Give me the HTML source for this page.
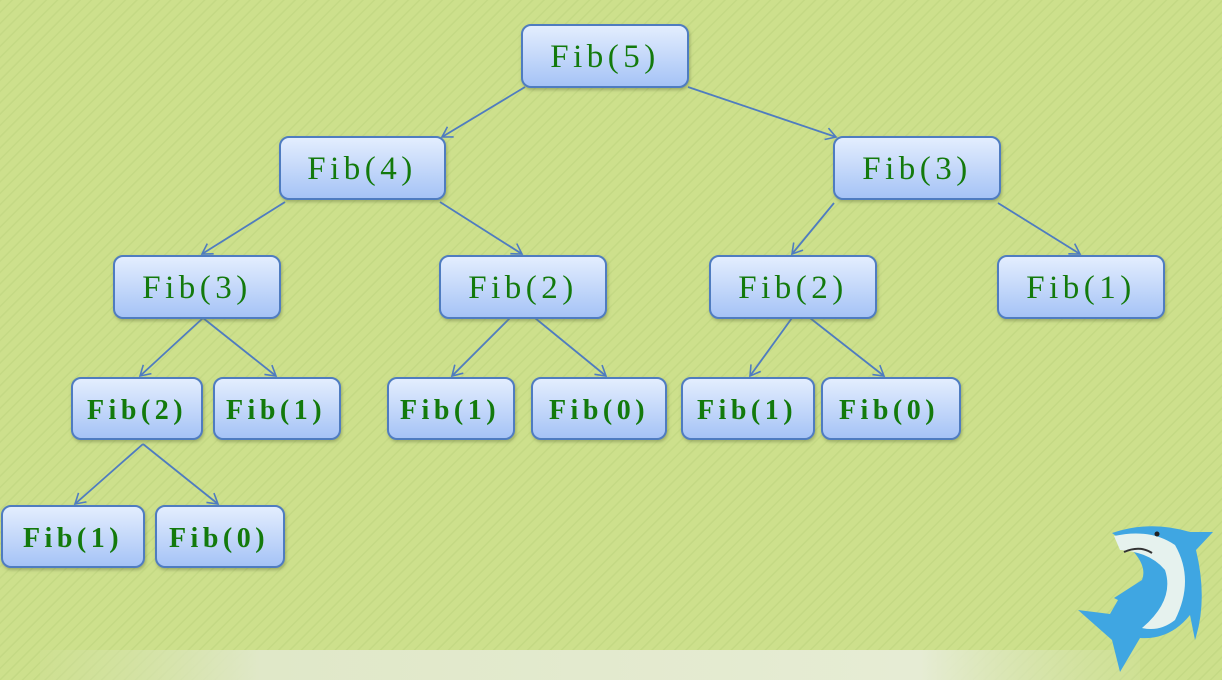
<!DOCTYPE html>
<html><head><meta charset="utf-8"><style>
html,body{margin:0;padding:0}
body{width:1222px;height:680px;overflow:hidden;background:#cde08c}
svg{display:block}
text{font-family:"Liberation Serif",serif;fill:#137a0c}
.n{font-size:33px;letter-spacing:4.5px}
.b{font-size:28px;font-weight:bold;letter-spacing:4.5px}
</style></head><body>
<svg width="1222" height="680" viewBox="0 0 1222 680">
<defs>
<pattern id="st" width="8" height="8" patternUnits="userSpaceOnUse" patternTransform="rotate(45)">
<rect width="8" height="8" fill="#cde08c"/><rect width="1.5" height="8" fill="#c4d984"/>
</pattern>
<linearGradient id="g" x1="0" y1="0" x2="0" y2="1"><stop offset="0" stop-color="#e4eefe"/><stop offset="1" stop-color="#a4c2f6"/></linearGradient>
<linearGradient id="band" x1="0" y1="0" x2="1" y2="0"><stop offset="0" stop-color="#d4e2a8" stop-opacity="0.2"/><stop offset="0.2" stop-color="#e0e8c8"/><stop offset="0.8" stop-color="#e6ecd4"/><stop offset="1" stop-color="#d4e2a8" stop-opacity="0.3"/></linearGradient>
<marker id="a" markerWidth="14" markerHeight="14" refX="11" refY="7" orient="auto" markerUnits="userSpaceOnUse"><path d="M1,1 L11,7 L1,13" fill="none" stroke="#4f7cc0" stroke-width="1.6"/></marker>
<filter id="sh" x="-10%" y="-10%" width="130%" height="140%"><feDropShadow dx="1" dy="2" stdDeviation="1.5" flood-color="#6a7a40" flood-opacity="0.5"/></filter>
</defs>
<rect width="1222" height="680" fill="url(#st)"/>
<rect x="40" y="650" width="1100" height="30" fill="url(#band)"/>
<g stroke="#4f7cc0" stroke-width="1.8" marker-end="url(#a)">
<line x1="525" y1="87" x2="442" y2="137"/>
<line x1="688" y1="87" x2="836" y2="137"/>
<line x1="285" y1="202" x2="202" y2="254"/>
<line x1="440" y1="202" x2="522" y2="254"/>
<line x1="834" y1="203" x2="792" y2="254"/>
<line x1="998" y1="203" x2="1080" y2="254"/>
<line x1="203" y1="318" x2="140" y2="376"/>
<line x1="203" y1="318" x2="276" y2="376"/>
<line x1="510" y1="318" x2="452" y2="376"/>
<line x1="535" y1="318" x2="606" y2="376"/>
<line x1="792" y1="318" x2="750" y2="376"/>
<line x1="810" y1="318" x2="884" y2="376"/>
<line x1="143" y1="444" x2="75" y2="504"/>
<line x1="143" y1="444" x2="218" y2="504"/>
</g>
<g fill="url(#g)" stroke="#4f7cc0" stroke-width="2" filter="url(#sh)">
<rect x="522" y="25" width="166" height="62" rx="9"/>
<rect x="280" y="137" width="165" height="62" rx="9"/>
<rect x="834" y="137" width="166" height="62" rx="9"/>
<rect x="114" y="256" width="166" height="62" rx="9"/>
<rect x="440" y="256" width="166" height="62" rx="9"/>
<rect x="710" y="256" width="166" height="62" rx="9"/>
<rect x="998" y="256" width="166" height="62" rx="9"/>
<rect x="72" y="378" width="130" height="61" rx="9"/>
<rect x="214" y="378" width="126" height="61" rx="9"/>
<rect x="388" y="378" width="126" height="61" rx="9"/>
<rect x="532" y="378" width="134" height="61" rx="9"/>
<rect x="682" y="378" width="132" height="61" rx="9"/>
<rect x="822" y="378" width="138" height="61" rx="9"/>
<rect x="2" y="506" width="142" height="61" rx="9"/>
<rect x="156" y="506" width="128" height="61" rx="9"/>
</g>
<g text-anchor="middle">
<text class="n" x="605" y="67">Fib(5)</text>
<text class="n" x="362" y="179">Fib(4)</text>
<text class="n" x="917" y="179">Fib(3)</text>
<text class="n" x="197" y="298">Fib(3)</text>
<text class="n" x="523" y="298">Fib(2)</text>
<text class="n" x="793" y="298">Fib(2)</text>
<text class="n" x="1081" y="298">Fib(1)</text>
<text class="b" x="137" y="419">Fib(2)</text>
<text class="b" x="276" y="419">Fib(1)</text>
<text class="b" x="450" y="419">Fib(1)</text>
<text class="b" x="599" y="419">Fib(0)</text>
<text class="b" x="747" y="419">Fib(1)</text>
<text class="b" x="889" y="419">Fib(0)</text>
<text class="b" x="73" y="547">Fib(1)</text>
<text class="b" x="219" y="547">Fib(0)</text>
</g>
<g>
<path d="M1112,533 Q1150,520 1190,532 L1213,532 L1196,550 Q1208,600 1195,640 L1190,615 Q1170,640 1140,638 L1120,672 L1112,640 L1078,610 L1110,614 L1118,600 L1114,598 L1142,580 Q1150,560 1112,533 Z" fill="#3fa6e2"/>
<path d="M1114,536 Q1150,528 1175,545 Q1195,580 1175,620 Q1160,632 1142,628 Q1175,600 1165,570 Q1150,552 1120,550 Z" fill="#e6f2ee"/>
<path d="M1124,552 Q1140,545 1152,553" stroke="#333" stroke-width="2" fill="none"/>
<circle cx="1157" cy="534" r="2.5" fill="#222"/>
</g>
</svg>
</body></html>
